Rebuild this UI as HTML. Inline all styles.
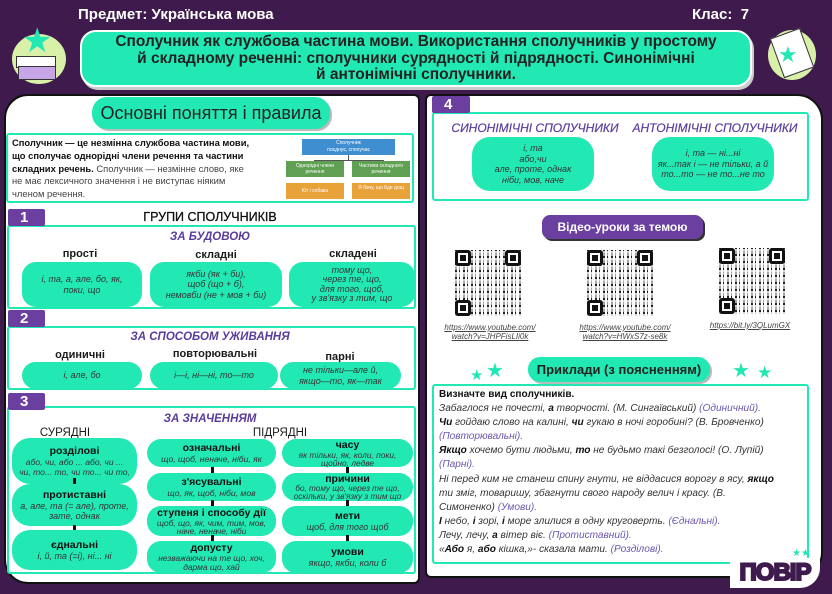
<!DOCTYPE html>
<html><head><meta charset="utf-8">
<style>
*{box-sizing:border-box;margin:0;padding:0}
body{width:832px;height:594px;background:#3e1a4d;position:relative;overflow:hidden;font-family:"Liberation Sans","DejaVu Sans",sans-serif;color:#1b1b1b}
.a{position:absolute}
.t{background:#22e8b4}
.pill{position:absolute;background:#22e8b4;border-radius:14px;display:flex;flex-direction:column;align-items:center;justify-content:center;text-align:center;font-style:italic;font-size:9px;line-height:10.5px;color:#333;white-space:nowrap}
.pill b{font-style:normal;font-size:10.5px;color:#111;line-height:12px}
.box{position:absolute;border:2px solid #22e8b4;border-radius:3px;background:#fff}
.num{position:absolute;background:#6b3fa0;color:#fff;font-weight:bold;font-size:15px;text-align:left;padding-left:12px;line-height:17px;border-radius:2px}
.h{position:absolute;font-weight:bold;font-size:11px;text-align:center}
.ph{position:absolute;color:#5a3d9a;font-style:italic;font-weight:bold;font-size:11.5px;text-align:center;white-space:nowrap}
.bar{position:absolute;width:3px;height:6px;background:#111}
.qr{position:absolute;width:66px;height:66px;background:
repeating-linear-gradient(90deg,#222 0 2px,#fff 2px 4px,#222 4px 5px,#fff 5px 8px),#fff}
.qr:after{content:"";position:absolute;inset:0;background:repeating-linear-gradient(0deg,rgba(255,255,255,.8) 0 2px,transparent 2px 4px,rgba(255,255,255,.6) 4px 7px)}
.qr i{position:absolute;width:16px;height:16px;border:3px solid #111;border-radius:3px;background:#fff;z-index:2}
.qr i:after{content:"";position:absolute;left:2px;top:2px;width:6px;height:6px;background:#111}
.url{position:absolute;font-size:8px;color:#444;text-decoration:underline;text-align:center;line-height:9px;font-style:italic}
.star{position:absolute;color:#22e8b4;font-size:20px;line-height:1}
.ex{font-size:10.1px;line-height:14.1px;font-style:italic;color:#333}
.ex span{color:#6b55b0}
.ex b{color:#111}
</style></head><body>
<div class="a" style="left:78px;top:6px;color:#fff;font-weight:bold;font-size:15px">Предмет: Українська мова</div>
<div class="a" style="left:692px;top:6px;color:#fff;font-weight:bold;font-size:15px">Клас:&nbsp; 7</div>
<!-- icons -->
<div class="a" style="left:12px;top:34px;width:54px;height:50px;border-radius:50%;background:#d9f0a8"></div>
<div class="a" style="left:16px;top:56px;width:40px;height:12px;background:#fff;border:1px solid #333"></div>
<div class="a" style="left:18px;top:66px;width:38px;height:14px;background:#c7a5e6;border:1px solid #333"></div>
<div class="star" style="left:22px;top:24px;font-size:34px">★</div>
<div class="a" style="left:768px;top:30px;width:48px;height:50px;border-radius:50%;background:#d9f0a8"></div>
<div class="a" style="left:776px;top:32px;width:32px;height:42px;background:#fff;border:1px solid #333;transform:rotate(-20deg)"></div>
<div class="star" style="left:778px;top:44px;font-size:22px">★</div>
<!-- title -->
<div class="a t" style="left:80px;top:30px;width:672px;height:57px;border-radius:16px;border:2px solid #fff;box-shadow:2px 3px 0 #ccc;text-align:center;font-weight:bold;font-size:15.5px;line-height:16.5px;padding-top:2px;color:#222;white-space:nowrap">Сполучник як службова частина мови. Використання сполучників у простому<br>й складному реченні: сполучники сурядності й підрядності. Синонімічні<br>й антонімічні сполучники.</div>
<!-- left panel -->
<div class="a" style="left:4px;top:94px;width:416px;height:490px;background:#fff;border-radius:24px 6px 6px 24px;border:2px solid #111"></div>
<div class="a t" style="left:92px;top:97px;width:238px;height:32px;border-radius:15px;box-shadow:2px 2px 0 #bbb;text-align:center;font-size:18px;line-height:32px;color:#222;white-space:nowrap">Основні поняття і правила</div>
<div class="box" style="left:6px;top:133px;width:408px;height:70px"></div>
<div class="a" style="left:12px;top:137px;width:272px;font-size:9.4px;line-height:12.8px;color:#444"><b style="color:#111">Сполучник — це незмінна службова частина мови,<br>що сполучає однорідні члени речення та частини<br>складних речень.</b> Сполучник — незмінне слово, яке<br>не має лексичного значення і не виступає ніяким<br>членом речення.</div>
<div class="a" style="left:302px;top:139px;width:93px;height:16px;background:#3e8ed0;color:#fff;font-size:5px;text-align:center;line-height:7px;padding-top:1px">Сполучник<br>поєднує, сполучає</div>
<div class="a" style="left:348px;top:155px;width:1px;height:5px;background:#555"></div>
<div class="a" style="left:314px;top:160px;width:70px;height:1px;background:#555"></div>
<div class="a" style="left:286px;top:161px;width:58px;height:16px;background:#5fa052;color:#fff;font-size:5px;text-align:center;line-height:6px;padding-top:2px">Однорідні члени речення</div>
<div class="a" style="left:352px;top:161px;width:58px;height:16px;background:#5fa052;color:#fff;font-size:5px;text-align:center;line-height:6px;padding-top:2px">Частини складного речення</div>
<div class="a" style="left:286px;top:183px;width:58px;height:16px;background:#e8a23a;color:#fff;font-size:5px;text-align:center;line-height:16px">Кіт і собака</div>
<div class="a" style="left:352px;top:183px;width:58px;height:16px;background:#e8a23a;color:#fff;font-size:5px;text-align:center;line-height:6px;padding-top:2px">Я бачу, що йде дощ</div>
<!-- 1 -->
<div class="box" style="left:7px;top:225px;width:409px;height:84px"></div>
<div class="num" style="left:8px;top:209px;width:37px">1</div>
<div class="h" style="left:110px;top:210px;width:200px;font-size:12.5px;font-weight:normal;color:#111;-webkit-text-stroke:.3px #111">ГРУПИ СПОЛУЧНИКІВ</div>
<div class="ph" style="left:110px;top:231px;width:200px">ЗА БУДОВОЮ</div>
<div class="h" style="left:30px;top:248px;width:100px">прості</div>
<div class="h" style="left:166px;top:249px;width:100px">складні</div>
<div class="h" style="left:303px;top:248px;width:100px">складені</div>
<div class="pill" style="left:22px;top:262px;width:120px;height:45px">і, та, а, але, бо, як,<br>поки, що</div>
<div class="pill" style="left:150px;top:262px;width:132px;height:45px">якби (як + би),<br>щоб (що + б),<br>немовби (не + мов + би)</div>
<div class="pill" style="left:289px;top:262px;width:126px;height:45px;line-height:9.5px">тому що,<br>через те, що,<br>для того, щоб,<br>у зв'язку з тим, що</div>
<!-- 2 -->
<div class="box" style="left:7px;top:326px;width:409px;height:64px"></div>
<div class="num" style="left:8px;top:310px;width:37px">2</div>
<div class="ph" style="left:110px;top:331px;width:200px">ЗА СПОСОБОМ УЖИВАННЯ</div>
<div class="h" style="left:30px;top:349px;width:100px">одиничні</div>
<div class="h" style="left:150px;top:348px;width:130px">повторювальні</div>
<div class="h" style="left:290px;top:351px;width:100px">парні</div>
<div class="pill" style="left:22px;top:362px;width:120px;height:27px">і, але, бо</div>
<div class="pill" style="left:150px;top:362px;width:128px;height:27px">і—і, ні—ні, то—то</div>
<div class="pill" style="left:280px;top:362px;width:121px;height:27px">не тільки—але й,<br>якщо—то, як—так</div>
<!-- 3 -->
<div class="box" style="left:7px;top:406px;width:409px;height:168px"></div>
<div class="num" style="left:8px;top:393px;width:37px">3</div>
<div class="ph" style="left:110px;top:413px;width:200px">ЗА ЗНАЧЕННЯМ</div>
<div class="h" style="left:20px;top:427px;width:90px;font-weight:normal;font-size:11.5px">СУРЯДНІ</div>
<div class="h" style="left:230px;top:427px;width:100px;font-weight:normal;font-size:11.5px">ПІДРЯДНІ</div>
<div class="pill" style="left:12px;top:438px;width:125px;height:46px;border-radius:18px;font-size:8.6px"><b>розділові</b>або, чи, або ... або, чи ...<br>чи, то... то, чи то... чи то,</div>
<div class="bar" style="left:73px;top:478px"></div>
<div class="pill" style="left:12px;top:484px;width:125px;height:42px;border-radius:18px"><b>протиставні</b>а, але, та (= але), проте,<br>зате, однак</div>
<div class="bar" style="left:73px;top:525px"></div>
<div class="pill" style="left:12px;top:530px;width:125px;height:40px;border-radius:18px"><b>єднальні</b>і, й, та (=і), ні... ні</div>
<div class="pill" style="left:147px;top:439px;width:129px;height:28px;font-size:8.6px"><b>означальні</b>що, щоб, неначе, ніби, як</div>
<div class="pill" style="left:147px;top:473px;width:129px;height:28px;font-size:8.6px"><b>з'ясувальні</b>що, як, щоб, ніби, мов</div>
<div class="pill" style="left:147px;top:506px;width:129px;height:30px;line-height:8.5px;font-size:8.4px"><b>ступеня і способу дії</b>щоб, що, як, чим, тим, мов,<br>наче, неначе, ніби</div>
<div class="pill" style="left:147px;top:541px;width:129px;height:32px;line-height:9.5px;font-size:8.4px"><b>допусту</b>незважаючи на те що, хоч,<br>дарма що, хай</div>
<div class="pill" style="left:282px;top:439px;width:131px;height:28px;line-height:8.5px;font-size:8.4px"><b>часу</b>як тільки, як, коли, поки,<br>щойно, ледве</div>
<div class="pill" style="left:282px;top:473px;width:131px;height:28px;line-height:8.5px;font-size:8.2px"><b>причини</b>бо, тому що, через те що,<br>оскільки, у зв'язку з тим що</div>
<div class="pill" style="left:282px;top:506px;width:131px;height:30px"><b>мети</b>щоб, для того щоб</div>
<div class="pill" style="left:282px;top:541px;width:131px;height:32px"><b>умови</b>якщо, якби, коли б</div>
<div class="bar" style="left:211px;top:467px"></div><div class="bar" style="left:211px;top:500px"></div><div class="bar" style="left:211px;top:535px"></div>
<div class="bar" style="left:346px;top:467px"></div><div class="bar" style="left:346px;top:500px"></div><div class="bar" style="left:346px;top:535px"></div>
<!-- right panel -->
<div class="a" style="left:425px;top:94px;width:398px;height:484px;background:#fff;border-radius:6px 26px 26px 6px;border:2px solid #111"></div>
<div class="box" style="left:432px;top:112px;width:377px;height:89px"></div>
<div class="num" style="left:432px;top:96px;width:38px">4</div>
<div class="ph" style="left:440px;top:121px;width:190px;font-weight:normal;font-size:12px;-webkit-text-stroke:.2px #5a3d9a">СИНОНІМІЧНІ СПОЛУЧНИКИ</div>
<div class="ph" style="left:620px;top:121px;width:190px;font-weight:normal;font-size:12px;-webkit-text-stroke:.2px #5a3d9a">АНТОНІМІЧНІ СПОЛУЧНИКИ</div>
<div class="pill" style="left:472px;top:137px;width:122px;height:54px;border-radius:18px">і, та<br>або,чи<br>але, проте, однак<br>ніби, мов, наче</div>
<div class="pill" style="left:652px;top:137px;width:122px;height:54px;border-radius:18px">і, та — ні...ні<br>як...так і — не тільки, а й<br>то...то — не то...не то</div>
<div class="a" style="left:542px;top:215px;width:161px;height:24px;background:#6b3fa0;border-radius:8px;box-shadow:2px 2px 0 #333;color:#fff;font-weight:bold;font-size:12px;text-align:center;line-height:24px">Відео-уроки за темою</div>
<div class="qr" style="left:455px;top:250px"><i style="left:0;top:0"></i><i style="right:0;top:0"></i><i style="left:0;bottom:0"></i></div>
<div class="qr" style="left:587px;top:250px"><i style="left:0;top:0"></i><i style="right:0;top:0"></i><i style="left:0;bottom:0"></i></div>
<div class="qr" style="left:719px;top:248px"><i style="left:0;top:0"></i><i style="right:0;top:0"></i><i style="left:0;bottom:0"></i></div>
<div class="url" style="left:425px;top:323px;width:130px">https://www.youtube.com/<br>watch?v=JHPFisLIi0k</div>
<div class="url" style="left:560px;top:323px;width:130px">https://www.youtube.com/<br>watch?v=HWxS7z-se8k</div>
<div class="url" style="left:690px;top:321px;width:120px">https://bit.ly/3QLumGX</div>
<div class="a t" style="left:528px;top:357px;width:182px;height:25px;border-radius:12px;box-shadow:2px 2px 0 #bbb;text-align:center;font-weight:bold;font-size:13px;line-height:25px;color:#222">Приклади (з поясненням)</div>
<div class="star" style="left:470px;top:368px;font-size:15px">★</div>
<div class="star" style="left:486px;top:361px">★</div>
<div class="star" style="left:732px;top:361px">★</div>
<div class="star" style="left:757px;top:364px;font-size:17px">★</div>
<div class="star" style="left:762px;top:515px;font-size:18px">★</div>
<div class="box" style="left:432px;top:384px;width:377px;height:180px"></div>
<div class="a ex" style="left:439px;top:388px;width:368px"><b style="font-style:normal">Визначте вид сполучників.</b><br>Забаглося не почесті, <b>а</b> творчості. (М. Сингаївський) <span>(Одиничний).</span><br><b>Чи</b> гойдаю слово на калині, <b>чи</b> гукаю в ночі горобині? (В. Бровченко)<br><span>(Повторювальні).</span><br><b>Якщо</b> хочемо бути людьми, <b>то</b> не будьмо такі безголосі! (О. Лупій)<br><span>(Парні).</span><br>Ні перед ким не станеш спину гнути, не віддасися ворогу в ясу, <b>якщо</b><br>ти зміг, товаришу, збагнути свого народу велич і красу. (В.<br>Симоненко) <span>(Умови).</span><br><b>І</b> небо, <b>і</b> зорі, <b>і</b> море злилися в одну круговерть. <span>(Єднальні).</span><br>Лечу, лечу, <b>а</b> вітер віє. <span>(Протиставний).</span><br>«<b>Або</b> я, <b>або</b> кішка,»- сказала мати. <span>(Розділові).</span></div>
<div class="a" style="left:730px;top:558px;width:90px;height:30px;color:#3e1a4d;font-weight:900;font-size:24px;line-height:30px;text-align:center;-webkit-text-stroke:2px #3e1a4d;letter-spacing:-1px;background:#fff;border-radius:0 0 20px 0">ПОВІР</div>
<div class="star" style="left:792px;top:549px;font-size:10px">★★</div>
</body></html>
